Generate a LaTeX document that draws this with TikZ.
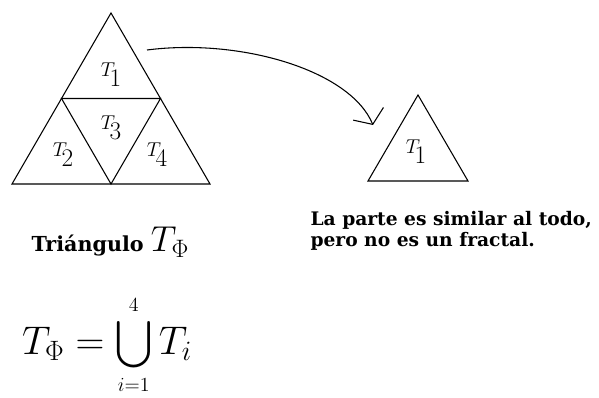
\RequirePackage{fix-cm}
\documentclass[tikz,border=0pt]{standalone}
\usepackage{amsmath}
\usepackage{fontspec}
\setmainfont{DejaVu Serif}
\usetikzlibrary{arrows.meta}

\newcommand{\tsub}[1]{$T$\kern-4pt\raisebox{-7.5pt}{\fontsize{19}{19}\selectfont$#1$}}

\begin{document}
\begin{tikzpicture}[x=0.75pt, y=-0.75pt, >={Straight Barb[angle=110:15pt]}, line width=0.8pt,
        lbl/.style={inner sep=0pt, font=\fontsize{15}{18}\selectfont},
        txt/.style={inner sep=0pt, font=\fontsize{14}{15.75}\selectfont\bfseries}]
        \useasboundingbox (0,0) rectangle (599,398);

        % triangle T_Phi
        \coordinate (a) at (111,13);
        \coordinate (b) at (12,184);
        \coordinate (c) at (210,184);
        \coordinate (ab) at (61.5,98.5);
        \coordinate (ac) at (160.5,98.5);
        \coordinate (bc) at (111,184);
        \draw (a) -- (b) -- (c) -- cycle;
        \draw (ab) -- (ac) -- (bc) -- cycle;
        \node[lbl] (t1) at (111,75) {\tsub{1}};
        \node[lbl] (t2) at (63,155) {\tsub{2}};
        \node[lbl] (t3) at (111,128) {\tsub{3}};
        \node[lbl] (t4) at (157,155) {\tsub{4}};

        % the part
        \coordinate (p) at (418,95);
        \coordinate (q) at (368,181);
        \coordinate (r) at (468,181);
        \draw (p) -- (q) -- (r) -- cycle;
        \node[lbl] (s1) at (416,152) {\tsub{1}};

        \coordinate (from) at (147,50);
        \coordinate (tip) at (373,125);
        \draw[->] (from) .. controls (240,38) and (350,70) .. (tip);

        % texts
        \node[txt, font=\fontsize{15.5}{18}\selectfont\bfseries, anchor=base west] (name) at (31,252)
            {Triángulo {\fontsize{27}{30}\selectfont$T_\Phi$}};
        \node[inner sep=0pt, anchor=base, font=\fontsize{30}{34}\selectfont] (union) at (107,355)
            {$\displaystyle T_\Phi = \bigcup_{\scriptscriptstyle i=1}^{\scriptscriptstyle 4} T_i$};
        \node[txt, anchor=north west, align=left] (note) at (310,211)
            {La parte es similar al todo,\\pero no es un fractal.};
    \end{tikzpicture}
\end{document}
